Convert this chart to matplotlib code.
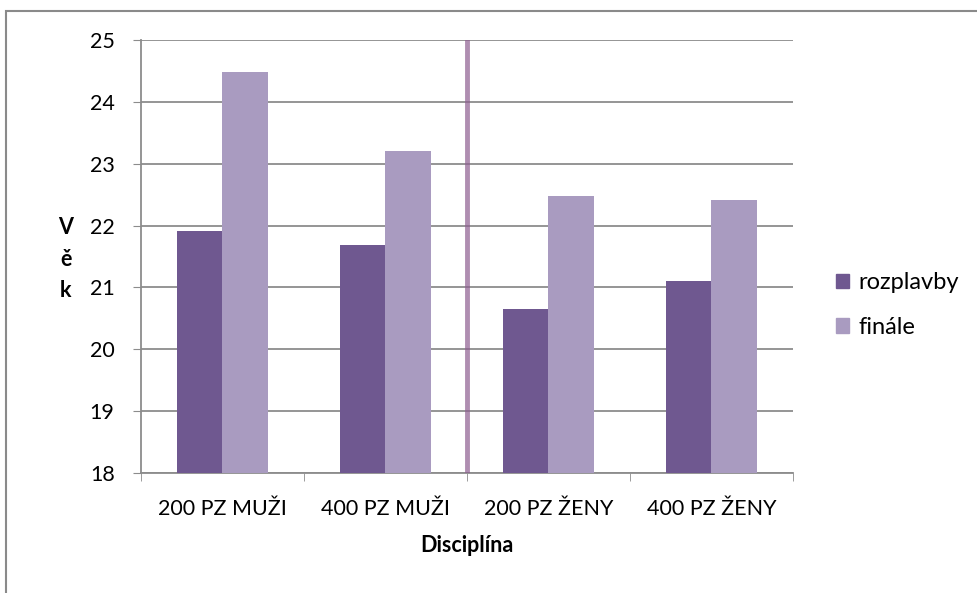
import numpy as np
import matplotlib.pyplot as plt
from matplotlib.patches import Rectangle, Patch

# prumerny vek plavcu v rozplavbach a ve finale
disciplines = ["200 PZ MUŽI", "400 PZ MUŽI", "200 PZ ŽENY", "400 PZ ŽENY"]
heats = [21.91, 21.68, 20.65, 21.10]
finals = [24.49, 23.20, 22.47, 22.41]

dark = "#6F5890"
light = "#A99BC0"
grid_c = "#8C8C8C"

plt.rcParams['font.family'] = ['Lato', 'DejaVu Sans']
fs = 15.5

fig = plt.figure(figsize=(9.78, 5.93), dpi=100)
ax = fig.add_axes([141 / 978, 1 - 473 / 593, 652 / 978, 433 / 593])

x = np.arange(len(disciplines))
w = 0.282
ax.bar(x - w / 2, np.array(heats) - 18, w, bottom=18, color=dark, zorder=3)
ax.bar(x + w / 2, np.array(finals) - 18, w, bottom=18, color=light, zorder=3)

ax.set_xlim(-0.5, len(disciplines) - 0.5)
ax.set_ylim(18, 25)
ax.set_yticks(range(18, 26))
ax.yaxis.grid(True, color=grid_c, lw=1.3, zorder=0)
ax.tick_params(axis='y', length=6, color=grid_c, labelsize=fs, pad=13)

# kategorie popsane mezi carkami
ax.set_xticks(x)
ax.set_xticklabels(disciplines, fontsize=fs)
ax.set_xticks(np.arange(-0.5, len(disciplines)), minor=True)
ax.tick_params(axis='x', which='major', length=0, pad=19)
ax.tick_params(axis='x', which='minor', length=6, color=grid_c)

for s in ['top', 'right']:
    ax.spines[s].set_visible(False)
for s in ['left', 'bottom']:
    ax.spines[s].set_color(grid_c)
    ax.spines[s].set_linewidth(1.3)

# oddeleni muzu a zen
ax.axvline(1.5, ymin=0.005, ymax=1.0, color="#8E5E90", lw=3.5, alpha=0.7, zorder=4)

ax.set_xlabel("Disciplína", fontsize=fs, fontweight='bold', labelpad=11)
fig.text(66 / 978, 1 - 259 / 593, "V\ně\nk", ha='center', va='center',
         fontsize=fs, fontweight='bold', linespacing=1.6)

handles = [Patch(color=dark, label="rozplavby"), Patch(color=light, label="finále")]
fig.legend(handles=handles, loc='center left', bbox_to_anchor=(836 / 978, 1 - 305 / 593),
           frameon=False, fontsize=17, handlelength=0.55, handleheight=0.55,
           handletextpad=0.4, labelspacing=1.0, borderpad=0, borderaxespad=0)

# ramecek grafu
fig.patches.append(Rectangle((6 / 978, -0.1), 1.2, 1.1 - 11 / 593, transform=fig.transFigure,
                             fill=False, edgecolor="#8A8A8A", lw=1.5))

fig.savefig("out.png", dpi=100)
